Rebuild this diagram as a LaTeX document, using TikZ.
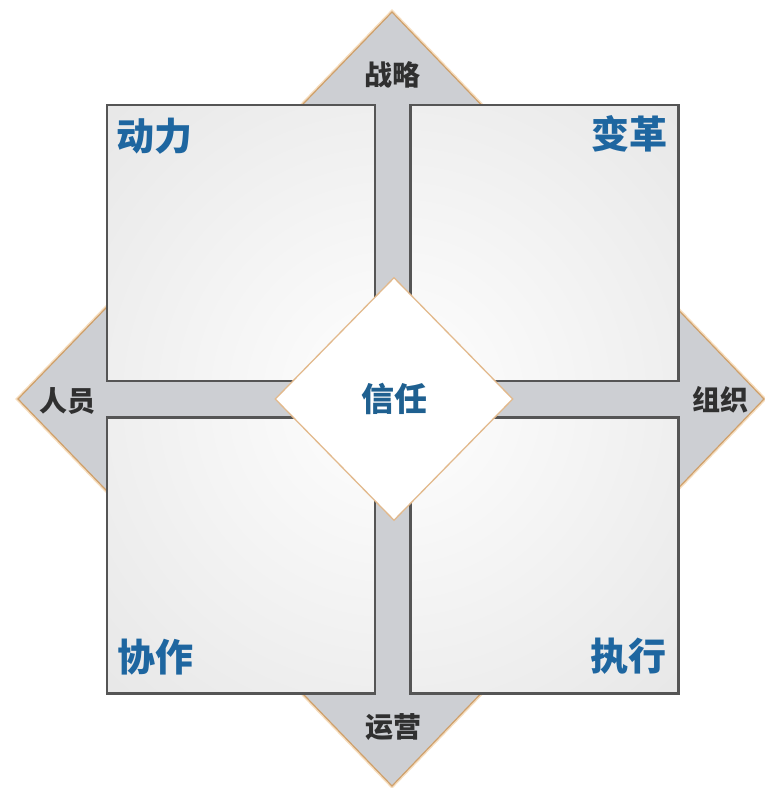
\documentclass[tikz,border=0pt]{standalone}
\usepackage{fontspec}
\newfontfamily\cjk{Noto Sans CJK SC}
\usetikzlibrary{shapes.geometric}
\definecolor{diagray}{HTML}{CDCFD3}
\definecolor{tanedge}{HTML}{CFA06A}
\definecolor{tanglow}{HTML}{F6DDBE}
\definecolor{inneredge}{HTML}{E2B98C}
\definecolor{boxedge}{HTML}{555555}
\definecolor{boxgray}{HTML}{D0D0D0}
\definecolor{lblue}{HTML}{1E66A0}
\definecolor{tblue}{HTML}{1F6090}
\definecolor{sidetext}{HTML}{303030}
\begin{document}
\begin{tikzpicture}[x=1pt,y=-1pt,
  outerdia/.style={fill=diagray, draw=tanedge, line width=1.2pt, line join=miter,
    preaction={draw=tanglow, line width=4pt}},
  quad/.style={draw=boxedge, line width=2.4pt, minimum width=268pt, minimum height=276pt,
    inner sep=0pt, path picture={\shade[inner color=white, outer color=boxgray] (ctr) circle (820pt);}},
  trustbox/.style={shape=diamond, fill=white, draw=inneredge, line width=1.3pt,
    minimum width=238pt, minimum height=243pt, inner sep=0pt, text=tblue,
    font=\cjk\bfseries\fontsize{33}{33}\selectfont},
  qlabel/.style={text=lblue, font=\cjk\bfseries\fontsize{38}{38}\selectfont, inner sep=0pt},
  slabel/.style={text=sidetext, font=\cjk\bfseries\fontsize{28}{28}\selectfont, inner sep=0pt}]
\useasboundingbox (0,0) rectangle (764,788);
\fill[white] (0,0) rectangle (764,788);
\coordinate (ctr) at (393,399);
% outer diamond
\coordinate (otop) at (392,12);
\coordinate (oright) at (764,399);
\coordinate (obot) at (392,786);
\coordinate (oleft) at (18,399);
\draw[outerdia] (otop) -- (oright) -- (obot) -- (oleft) -- cycle;
% quadrants
\node[quad] (tl) at (241,243) {};
\node[quad] (tr) at (544.5,243) {};
\node[quad] (bl) at (241,555.5) {};
\node[quad] (br) at (544.5,555.5) {};
% centre diamond
\node[trustbox] (trust) at (394,399) {信任};
% quadrant labels
\node[qlabel] (ldongli) at (154,136) {动力};
\node[qlabel] (lbiange) at (629,134) {变革};
\node[qlabel] (lxiezuo) at (155,657) {协作};
\node[qlabel] (lzhixing) at (628,656) {执行};
% side labels
\node[slabel] (lzhanlue) at (392,75) {战略};
\node[slabel] (lrenyuan) at (67,401) {人员};
\node[slabel] (lzuzhi) at (720,400) {组织};
\node[slabel] (lyunying) at (393,727) {运营};
\end{tikzpicture}
\end{document}
